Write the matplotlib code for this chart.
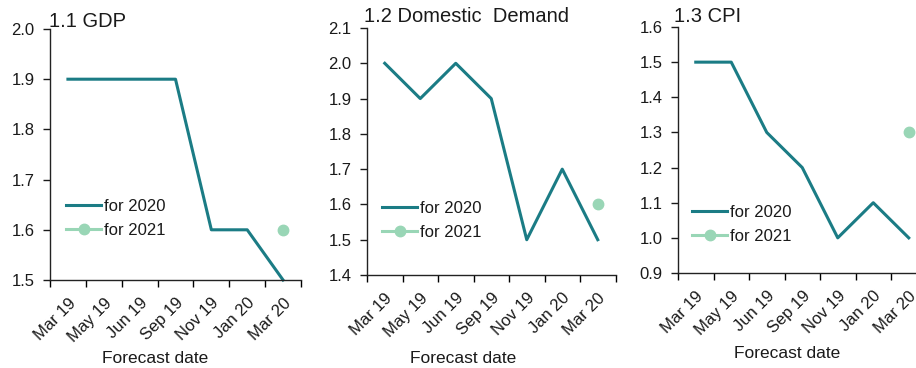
import numpy as np
import matplotlib.pyplot as plt
from matplotlib.ticker import FormatStrFormatter

plt.rcParams['font.family'] = ['Liberation Sans', 'DejaVu Sans']

# Data
dates = ['Mar 19', 'May 19', 'Jun 19', 'Sep 19', 'Nov 19', 'Jan 20', 'Mar 20']
gdp_2020 = [1.9, 1.9, 1.9, 1.9, 1.6, 1.6, 1.5]
gdp_2021 = [np.nan, np.nan, np.nan, np.nan, np.nan, np.nan, 1.6]
dd_2020 = [2.0, 1.9, 2.0, 1.9, 1.5, 1.7, 1.5]
dd_2021 = [np.nan, np.nan, np.nan, np.nan, np.nan, np.nan, 1.6]
cpi_2020 = [1.5, 1.5, 1.3, 1.2, 1.0, 1.1, 1.0]
cpi_2021 = [np.nan, np.nan, np.nan, np.nan, np.nan, np.nan, 1.3]

titles = ['1.1 GDP', '1.2 Domestic  Demand', '1.3 CPI']
ylims = [(1.5, 2.0), (1.4, 2.1), (0.9, 1.6)]

teal = '#1b7c85'
mint = '#99d6b6'
txt = '#1a1a1a'

W, H = 916, 368
fig = plt.figure(figsize=(W / 100, H / 100), dpi=100)

# axes boxes in pixels: left, right, top, bottom
boxes = [(50, 301, 29, 280), (367, 615.5, 28, 275), (678, 926.5, 27, 273)]
title_pos = [(49, 27), (364, 22), (674, 22)]       # baseline
xlabel_pos = [(155, 363), (463, 363), (787, 358)]  # baseline
legend_pos = [(66, 199), (382, 201), (692, 205)]

series = [(gdp_2020, gdp_2021), (dd_2020, dd_2021), (cpi_2020, cpi_2021)]

for i, (s20, s21) in enumerate(series):
    l, r, t, b = boxes[i]
    ax = fig.add_axes([l / W, 1 - b / H, (r - l) / W, (b - t) / H])
    x = np.arange(len(dates))
    ax.plot(x, s20, color=teal, lw=2.2, label='for 2020', clip_on=False)
    ax.plot(x, s21, color=mint, lw=2.2, marker='o', ms=7.5, label='for 2021',
            clip_on=False)
    ax.set_xlim(-0.5, len(dates) - 0.5)
    ax.set_ylim(*ylims[i])
    ax.set_yticks(np.round(np.arange(ylims[i][0], ylims[i][1] + 0.01, 0.1), 1))
    ax.yaxis.set_major_formatter(FormatStrFormatter('%.1f'))
    ax.set_xticks(x)
    ax.set_xticklabels(dates, rotation=45, ha='right', rotation_mode='anchor')
    ax.set_xticks(np.arange(-0.5, len(dates), 1.0), minor=True)
    ax.tick_params(axis='x', which='major', length=0, pad=11, labelsize=12,
                   colors=txt)
    ax.tick_params(axis='x', which='minor', length=5, width=1, direction='out')
    ax.tick_params(axis='y', length=5, width=1, direction='out', pad=6,
                   labelsize=12, colors=txt)
    for sp in ['top', 'right']:
        ax.spines[sp].set_visible(False)
    for sp in ['left', 'bottom']:
        ax.spines[sp].set_linewidth(1)
        ax.spines[sp].set_color('#222222')
    ax.patch.set_visible(False)

    fig.text(title_pos[i][0] / W, 1 - title_pos[i][1] / H, titles[i],
             fontsize=14.5, color=txt, ha='left', va='baseline')
    fig.text(xlabel_pos[i][0] / W, 1 - xlabel_pos[i][1] / H, 'Forecast date',
             fontsize=12.5, color=txt, ha='center', va='baseline')
    lx, ly = legend_pos[i]
    ax.legend(loc='upper left', bbox_to_anchor=(lx / W, 1 - ly / H),
              bbox_transform=fig.transFigure, frameon=False, borderpad=0,
              handlelength=2.1, handletextpad=0.15, labelspacing=0.55,
              fontsize=12, labelcolor=txt, borderaxespad=0)

fig.savefig('out.png', dpi=100)
